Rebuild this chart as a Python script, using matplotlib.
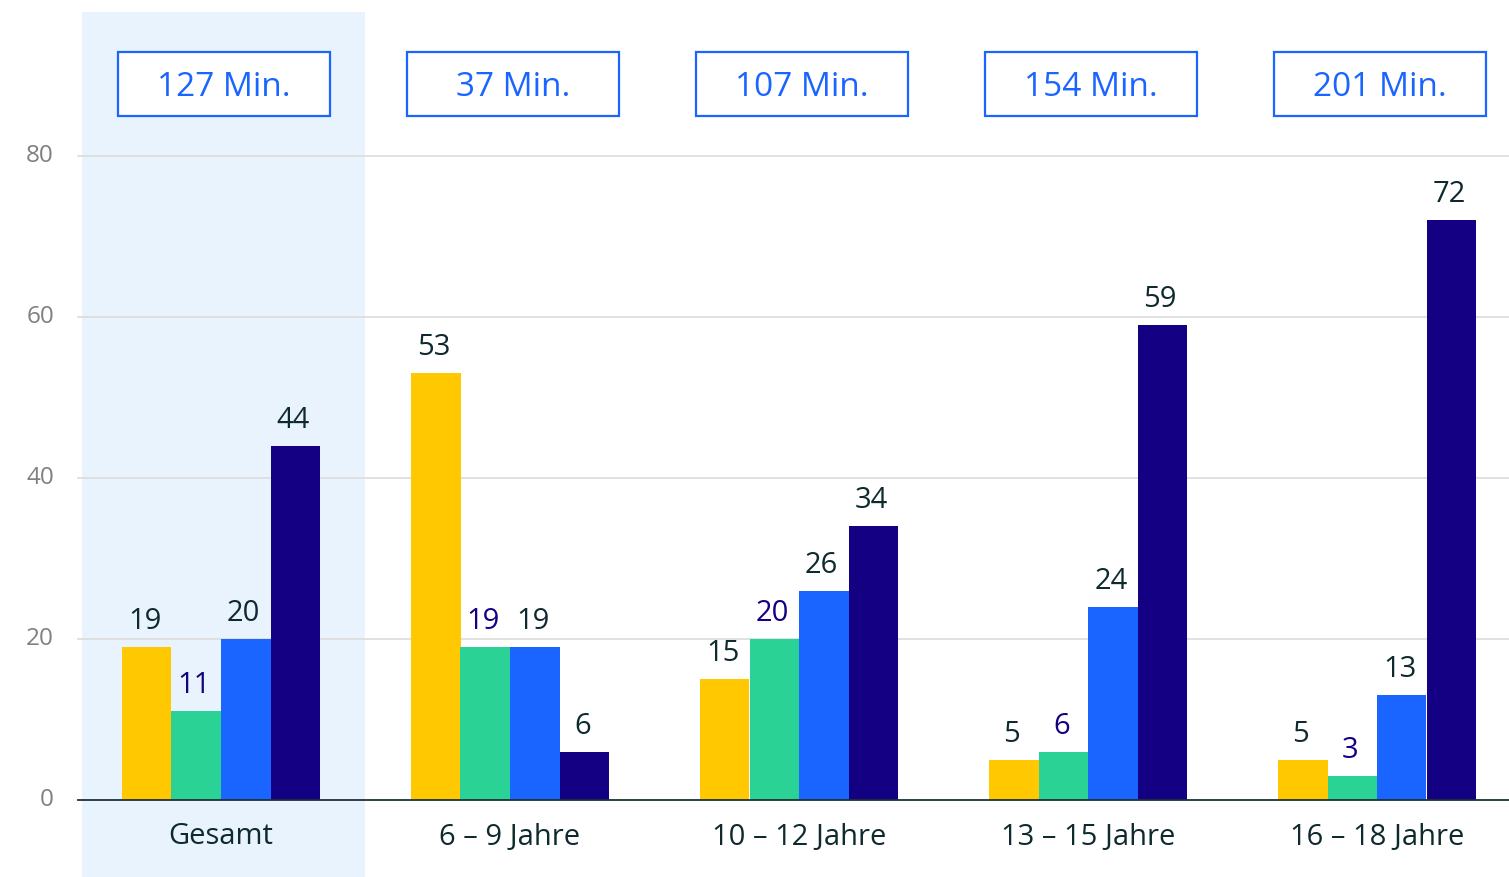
import matplotlib
matplotlib.use("Agg")
import matplotlib.pyplot as plt
from matplotlib.patches import Rectangle
import numpy as np

categories = ["Gesamt", "6 – 9 Jahre", "10 – 12 Jahre", "13 – 15 Jahre", "16 – 18 Jahre"]
minutes = [127, 37, 107, 154, 201]
series1 = [19, 53, 15, 5, 5]    # yellow
series2 = [11, 19, 20, 6, 3]    # green
series3 = [20, 19, 26, 24, 13]  # blue
series4 = [44, 6, 34, 59, 72]   # navy
yticks = [0, 20, 40, 60, 80]

colors = ["#FFC800", "#2AD296", "#1A64FF", "#140082"]
label_colors = ["#0E2A2E", "#140082", "#0E2A2E", "#0E2A2E"]
plt.rcParams['font.family'] = ['Open Sans', 'DejaVu Sans']

W, H = 1509, 877
fig = plt.figure(figsize=(W / 100, H / 100), dpi=100)
ax = fig.add_axes([0, 0, 1, 1])

ppx = 289.0      # px per category
ppy = 8.05       # px per y unit
x0px, y0px = 221, 800
ax.set_xlim(-x0px / ppx, (W - x0px) / ppx)
ax.set_ylim(-(H - y0px) / ppy, y0px / ppy)
ax.axis("off")

def px2x(p):
    return (p - x0px) / ppx

def px2y(p):
    return (y0px - p) / ppy

# highlight band for Gesamt
ax.add_patch(Rectangle((px2x(82), px2y(877)), px2x(365) - px2x(82), px2y(12) - px2y(877),
                       facecolor="#E8F3FE", edgecolor="none", zorder=0))

# gridlines
for t in yticks[1:]:
    ax.plot([px2x(78), px2x(W)], [t, t], color="#DCDCDC", lw=1.2, zorder=1)
for t in yticks:
    ax.text(px2x(54), t, str(t), ha="right", va="center", fontsize=17.5, color="#808080")
ax.plot([px2x(78), px2x(W)], [0, 0], color="#1C3136", lw=1.3, zorder=4)

x = np.arange(len(categories))
bw = 49.5 / ppx
all_series = [series1, series2, series3, series4]
for i, s in enumerate(all_series):
    xs = x + (i - 1.5) * bw
    ax.bar(xs, s, width=bw, color=colors[i], zorder=3, linewidth=0)
    for xi, v in zip(xs, s):
        ax.annotate(str(v), (xi - 2 / ppx, v), xytext=(0, 8), textcoords="offset points",
                    ha="center", va="bottom", fontsize=21, color=label_colors[i])

for xi, c in zip(x, categories):
    ax.text(xi, px2y(837), c, ha="center", va="center", fontsize=21, color="#0E2A2E")

# minute boxes
bwid = 212 / ppx
for xi, m in zip(x, minutes):
    cx = xi + 3 / ppx
    ax.add_patch(Rectangle((cx - bwid / 2, px2y(116)), bwid, px2y(52) - px2y(116),
                           facecolor="white", edgecolor="#1A64FF", lw=1.6, zorder=5))
    ax.text(cx, px2y(87), f"{m} Min.", ha="center", va="center", fontsize=24,
            color="#1A64FF", zorder=6)

fig.savefig("out.png", dpi=100)
